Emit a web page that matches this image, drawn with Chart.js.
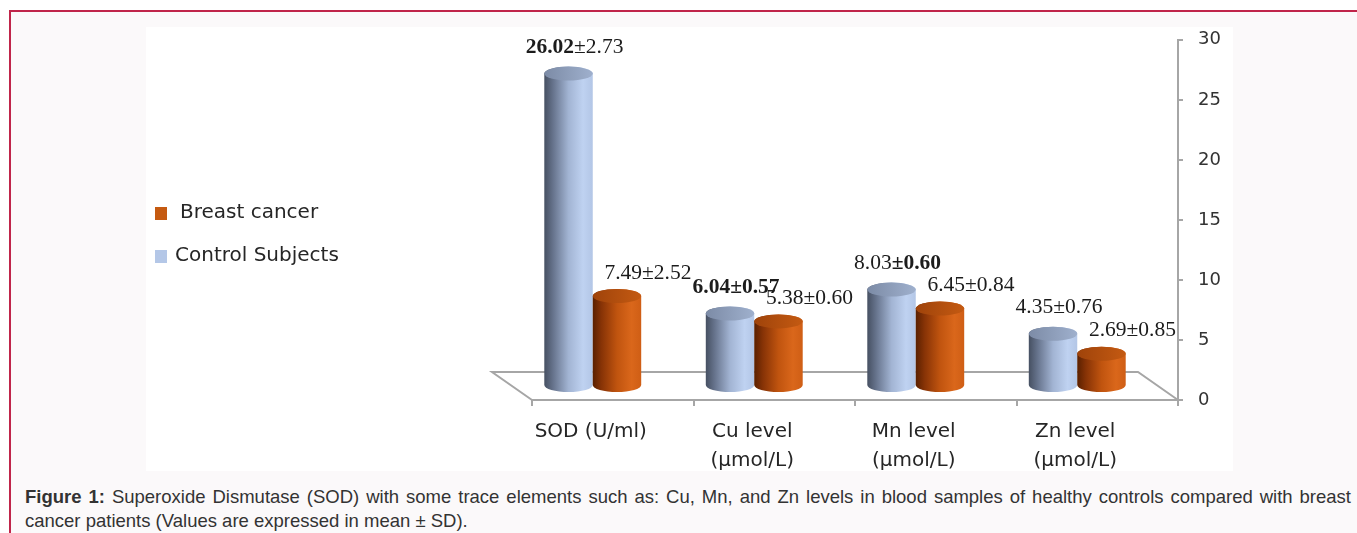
<!DOCTYPE html>
<html>
<head>
<meta charset="utf-8">
<script src="https://cdn.jsdelivr.net/npm/chart.js@4/dist/chart.umd.min.js"></script>
<style>
  html, body { margin: 0; padding: 0; background: #ffffff; }
  body { width: 1357px; height: 533px; position: relative; overflow: hidden; }
  #frame {
    position: absolute; left: 9px; top: 10px; right: 0; bottom: 0;
    background: #fbf9fa; border-left: 2px solid #c0254a; border-top: 2px solid #c0254a;
  }
  #panel { position: absolute; left: 146px; top: 27px; width: 1087px; height: 444px; background: #ffffff; }
  #plot { position: absolute; left: 146px; top: 14px; width: 1087px; height: 457px; }
  #caption {
    position: absolute; left: 25px; top: 485px; width: 1326px;
    font-family: "Liberation Sans", Arial, sans-serif; font-size: 18.5px; line-height: 24px;
    color: #333333; text-align: justify;
  }
</style>
</head>
<body>
<div id="frame"></div>
<div id="panel"></div>
<div id="plot"><canvas id="chart" width="1087" height="457"></canvas></div>
<div id="caption"><b>Figure 1:</b> Superoxide Dismutase (SOD) with some trace elements such as: Cu, Mn, and Zn levels in blood samples of healthy controls compared with breast cancer patients (Values are expressed in mean ± SD).</div>
<script>
// Categories and series
const categories = ['SOD (U/ml)', ['Cu level', '(µmol/L)'], ['Mn level', '(µmol/L)'], ['Zn level', '(µmol/L)']];
const seriesNames = ['Control Subjects', 'Breast cancer'];
const controlMean = [26.02, 6.04, 8.03, 4.35];
const controlSD = [2.73, 0.57, 0.60, 0.76];
const cancerMean = [7.49, 5.38, 6.45, 2.69];
const cancerSD = [2.52, 0.60, 0.84, 0.85];
const yTicks = [0, 5, 10, 15, 20, 25, 30];

// Which parts of each value label are set in bold
const meanBold = [[true, true, false, false], [false, false, false, false]];
const sdBold = [[false, true, true, false], [false, false, false, false]];

// Series styling
const seriesColors = ['#b4c7e7', '#c55a11'];
const bodyStops = [
  [[0, '#465062'], [0.18, '#66738c'], [0.5, '#a2b4d3'], [0.8, '#bfd2f1'], [1, '#b3c6e6']],
  [[0, '#5a2000'], [0.18, '#873306'], [0.5, '#c0540f'], [0.8, '#da671b'], [1, '#cf5e15']]
];
const capStops = [
  [[0, '#7c8ba6'], [1, '#9fb0cd']],
  [[0, '#9f430a'], [1, '#c45a12']]
];

// Floor depth of the 3-D look (back edge relative to the front edge)
const DEPTH_X = -40, DEPTH_Y = -28;
const CAP_RY = 7;
const AXIS_GREY = '#a6a6a6';
const TEXT_DARK = '#262626';

const fmt = v => v.toFixed(2);

const cylinderPlugin = {
  id: 'cylinders',
  beforeDatasetsDraw(chart) {
    // floor outline (front edge is the x-axis border)
    const { ctx, chartArea: a } = chart;
    ctx.save();
    ctx.strokeStyle = AXIS_GREY;
    ctx.lineWidth = 2;
    ctx.beginPath();
    ctx.moveTo(a.left, a.bottom);
    ctx.lineTo(a.left + DEPTH_X, a.bottom + DEPTH_Y);
    ctx.lineTo(a.right + DEPTH_X, a.bottom + DEPTH_Y);
    ctx.lineTo(a.right, a.bottom);
    ctx.stroke();
    ctx.restore();
  },
  beforeDatasetDraw() {
    // flat bars are replaced by cylinders below
    return false;
  },
  afterDatasetsDraw(chart) {
    const ctx = chart.ctx;
    ctx.save();
    chart.data.datasets.forEach((ds, di) => {
      const meta = chart.getDatasetMeta(di);
      meta.data.forEach((bar) => {
        const p = bar.getProps(['x', 'y', 'base', 'width'], true);
        const cx = p.x + DEPTH_X / 2;
        const top = p.y + DEPTH_Y / 2;
        const bottom = p.base + DEPTH_Y / 2;
        const rx = p.width / 2;
        const g = ctx.createLinearGradient(cx - rx, 0, cx + rx, 0);
        bodyStops[di].forEach(s => g.addColorStop(s[0], s[1]));
        ctx.beginPath();
        ctx.moveTo(cx - rx, top);
        ctx.lineTo(cx - rx, bottom);
        ctx.ellipse(cx, bottom, rx, CAP_RY, 0, Math.PI, 0, true);
        ctx.lineTo(cx + rx, top);
        ctx.ellipse(cx, top, rx, CAP_RY, 0, 0, Math.PI, true);
        ctx.closePath();
        ctx.fillStyle = g;
        ctx.fill();
        const cg = ctx.createLinearGradient(cx - rx, 0, cx + rx, 0);
        capStops[di].forEach(s => cg.addColorStop(s[0], s[1]));
        ctx.beginPath();
        ctx.ellipse(cx, top, rx, CAP_RY, 0, 0, Math.PI * 2);
        ctx.fillStyle = cg;
        ctx.fill();
      });
    });

    // value labels: mean ± SD
    const means = [controlMean, cancerMean];
    const sds = [controlSD, cancerSD];
    const labelShift = [[6, -26], [31, -23]];
    ctx.textBaseline = 'middle';
    ctx.fillStyle = '#1c1c1c';
    means.forEach((arr, di) => {
      const meta = chart.getDatasetMeta(di);
      arr.forEach((m, i) => {
        const p = meta.data[i].getProps(['x', 'y'], true);
        const parts = [
          [fmt(m), meanBold[di][i]],
          ['±', sdBold[di][i]],
          [fmt(sds[di][i]), sdBold[di][i]]
        ];
        const fontOf = b => (b ? 'bold ' : '') + '21.5px "Liberation Serif", "Times New Roman", serif';
        let total = 0;
        parts.forEach(pt => { ctx.font = fontOf(pt[1]); total += ctx.measureText(pt[0]).width; });
        let x = p.x + DEPTH_X / 2 + labelShift[di][0] - total / 2;
        const y = p.y + DEPTH_Y / 2 + labelShift[di][1];
        ctx.textAlign = 'left';
        parts.forEach(pt => {
          ctx.font = fontOf(pt[1]);
          ctx.fillText(pt[0], x, y);
          x += ctx.measureText(pt[0]).width;
        });
      });
    });
    ctx.restore();
  },
  afterDraw(chart) {
    // legend, listed in reverse series order
    const ctx = chart.ctx;
    ctx.save();
    ctx.font = '20px "DejaVu Sans", Verdana, sans-serif';
    ctx.textBaseline = 'middle';
    ctx.textAlign = 'left';
    const order = chart.data.datasets.map((d, i) => i).reverse();
    order.forEach((di, k) => {
      const ds = chart.data.datasets[di];
      const cy = 199 + k * 43;
      ctx.fillStyle = ds.backgroundColor;
      ctx.fillRect(9, cy - 6, 12, 13);
      ctx.fillStyle = TEXT_DARK;
      ctx.fillText(ds.label, k === 0 ? 34 : 29, cy);
    });
    ctx.restore();
  }
};

new Chart(document.getElementById('chart'), {
  type: 'bar',
  data: {
    labels: categories,
    datasets: [
      { label: seriesNames[0], data: controlMean, backgroundColor: seriesColors[0] },
      { label: seriesNames[1], data: cancerMean, backgroundColor: seriesColors[1] }
    ]
  },
  options: {
    responsive: false,
    animation: false,
    devicePixelRatio: 1,
    categoryPercentage: 0.6,
    barPercentage: 1.0,
    layout: { padding: { left: 386, top: 16, right: 0, bottom: 0 } },
    plugins: { legend: { display: false }, tooltip: { enabled: false } },
    scales: {
      x: {
        grid: { offset: true, drawOnChartArea: false, drawTicks: true, tickLength: 6, color: AXIS_GREY, lineWidth: 2 },
        border: { display: true, color: AXIS_GREY, width: 2 },
        ticks: {
          font: { family: '"DejaVu Sans", Verdana, sans-serif', size: 20, lineHeight: 1.45 },
          color: TEXT_DARK, padding: 11, labelOffset: -22, maxRotation: 0, autoSkip: false
        },
        afterFit(s) { s.height = 71; }
      },
      y: {
        position: 'right',
        min: 0, max: 30,
        afterBuildTicks(s) { s.ticks = yTicks.map(v => ({ value: v })); },
        grid: { drawOnChartArea: false, drawTicks: true, tickLength: 5, color: AXIS_GREY, lineWidth: 2 },
        border: { display: true, color: AXIS_GREY, width: 2 },
        ticks: {
          font: { family: '"DejaVu Sans", Verdana, sans-serif', size: 18 },
          color: '#333333', padding: 15
        },
        afterFit(s) { s.width = 55; }
      }
    }
  },
  plugins: [cylinderPlugin]
});
</script>
</body>
</html>
